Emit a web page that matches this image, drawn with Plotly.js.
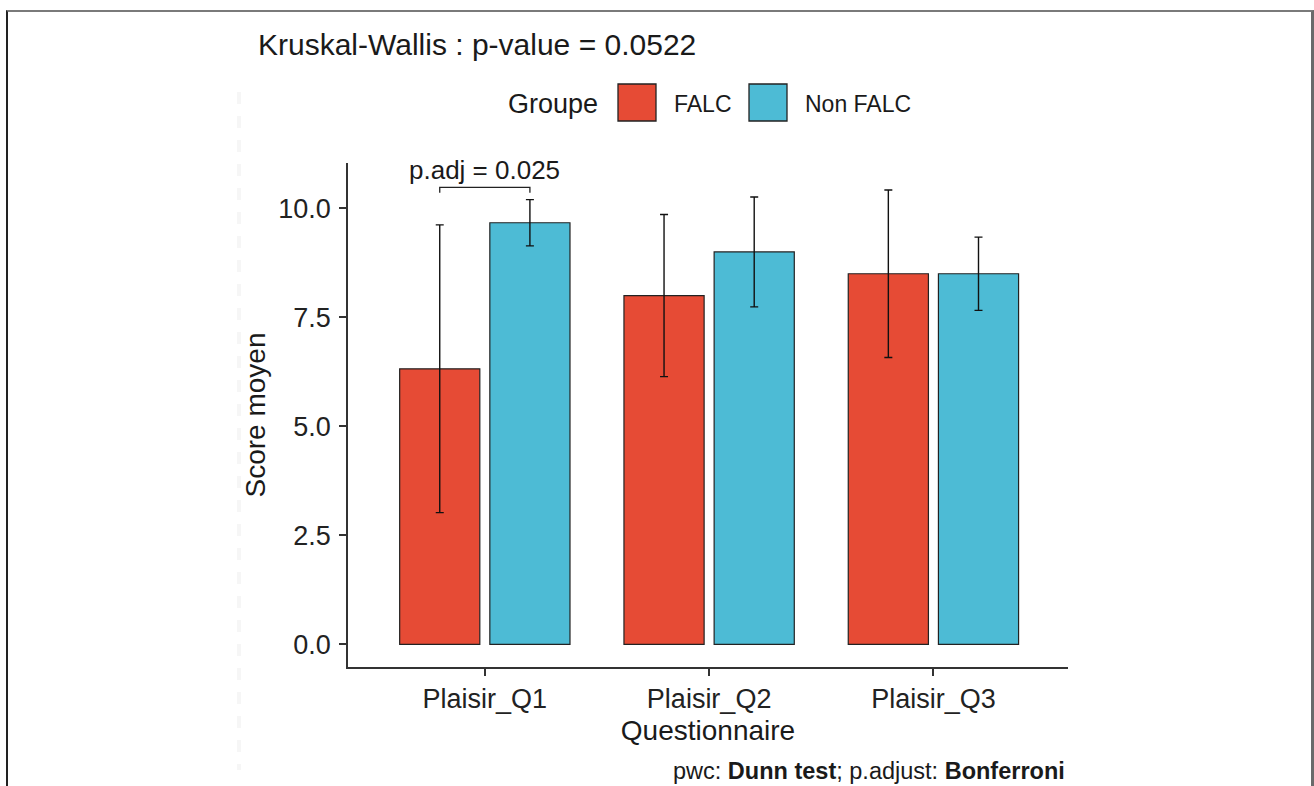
<!DOCTYPE html>
<html>
<head>
<meta charset="utf-8">
<script src="https://cdn.plot.ly/plotly-3.0.1.min.js"></script>
<style>
  html, body { margin: 0; padding: 0; background: #fff; }
  #wrap { position: relative; width: 1314px; height: 786px; overflow: hidden; }
  #chart { position: absolute; left: 0; top: 0; width: 1314px; height: 786px; }
  #frame { position: absolute; left: 6px; top: 10px; width: 1303px; height: 800px;
           border-top: 2px solid #7a7a7a; border-left: 2px solid #222; border-right: 3px solid #6a6a6a;
           pointer-events: none; }
</style>
</head>
<body>
<div id="wrap">
  <div id="chart"></div>
  <div id="frame"></div>
</div>
<script>
// ---- data ----
const categories = ["Plaisir_Q1", "Plaisir_Q2", "Plaisir_Q3"];
const groups = ["FALC", "Non FALC"];
const falcMean = [6.32, 8.00, 8.50];
const falcSd = [3.30, 1.86, 1.92];
const nonFalcMean = [9.67, 9.00, 8.50];
const nonFalcSd = [0.53, 1.26, 0.84];
const yTickVals = [0, 2.5, 5, 7.5, 10];
const yTickText = ["0.0", "2.5", "5.0", "7.5", "10.0"];
const pwcLabel = "p.adj = 0.025";
const titleText = "Kruskal-Wallis : p-value = 0.0522";
const captionText = "pwc: <b>Dunn test</b>; p.adjust: <b>Bonferroni</b>";

const colors = ["#E64B35", "#4DBBD5"];
const FONT = '"Liberation Sans", Arial, sans-serif';

const errStyle = { type: "data", visible: true, color: "#111", thickness: 1.4, width: 4 };

const traces = [
  { type: "bar", name: groups[0], x: categories, y: falcMean,
    marker: { color: colors[0], line: { color: "#222", width: 1.2 } },
    error_y: Object.assign({ array: falcSd }, errStyle), showlegend: false, hoverinfo: "x+y" },
  { type: "bar", name: groups[1], x: categories, y: nonFalcMean,
    marker: { color: colors[1], line: { color: "#222", width: 1.2 } },
    error_y: Object.assign({ array: nonFalcSd }, errStyle), showlegend: false, hoverinfo: "x+y" }
];

// plot area geometry in px
const W = 1314, H = 786;
const L = 348, R = 246, T = 163, B = 119;
const pw = W - L - R, ph = H - T - B;
const px2paperX = px => (px - L) / pw;
const py2paperY = py => (H - B - py) / ph;

const bargap = 0.196;
const off = (1 - bargap) / 4; // centre offset of each bar in a 2-bar group

// bracket for Q1 comparison, derived from data
const bracketY = Math.max(falcMean[0] + falcSd[0], nonFalcMean[0] + nonFalcSd[0]) + 0.28;
const tickDrop = 0.12;

const shapes = [
  { type: "path", xref: "x", yref: "y",
    path: `M ${-off},${bracketY - tickDrop} L ${-off},${bracketY} L ${off},${bracketY} L ${off},${bracketY - tickDrop}`,
    line: { color: "#222", width: 1.3 } },
  // legend keys
  { type: "rect", xref: "paper", yref: "paper",
    x0: px2paperX(618), x1: px2paperX(656), y0: py2paperY(84), y1: py2paperY(121),
    fillcolor: colors[0], line: { color: "#222", width: 1.3 } },
  { type: "rect", xref: "paper", yref: "paper",
    x0: px2paperX(749), x1: px2paperX(787), y0: py2paperY(84), y1: py2paperY(121),
    fillcolor: colors[1], line: { color: "#222", width: 1.3 } },
  // faint artefact line at left
  { type: "line", xref: "paper", yref: "paper",
    x0: px2paperX(239), x1: px2paperX(239), y0: py2paperY(92), y1: py2paperY(770),
    line: { color: "#f6f6f6", width: 4, dash: "dash" } }
];

const annotations = [
  { xref: "x", yref: "y", x: 0, y: bracketY, text: pwcLabel, showarrow: false,
    yanchor: "bottom", yshift: 0, font: { family: FONT, size: 26, color: "#1a1a1a" } },
  { xref: "paper", yref: "paper", x: px2paperX(600), y: py2paperY(104), xanchor: "right", yanchor: "middle",
    text: "Groupe", showarrow: false, font: { family: FONT, size: 27, color: "#1a1a1a" } },
  { xref: "paper", yref: "paper", x: px2paperX(672), y: py2paperY(104), xanchor: "left", yanchor: "middle",
    text: groups[0], showarrow: false, font: { family: FONT, size: 23, color: "#1a1a1a" } },
  { xref: "paper", yref: "paper", x: px2paperX(803), y: py2paperY(104), xanchor: "left", yanchor: "middle",
    text: groups[1], showarrow: false, font: { family: FONT, size: 23, color: "#1a1a1a" } },
  { xref: "paper", yref: "paper", x: px2paperX(1067), y: py2paperY(771), xanchor: "right", yanchor: "middle",
    text: captionText, showarrow: false, font: { family: FONT, size: 23.5, color: "#1a1a1a" } }
];

const layout = {
  width: W, height: H,
  margin: { l: L, r: R, t: T, b: B, pad: 0 },
  paper_bgcolor: "#fff", plot_bgcolor: "#fff",
  font: { family: FONT, color: "#1a1a1a" },
  title: { text: titleText, xref: "container", yref: "container", x: 258 / W, xanchor: "left",
           y: 1 - 44 / H, yanchor: "middle", font: { family: FONT, size: 30, color: "#1a1a1a" } },
  barmode: "group", bargap: bargap, bargroupgap: 0.111,
  showlegend: false,
  xaxis: { type: "category", categoryorder: "array", categoryarray: categories,
           range: [-0.61, 2.6], showline: true, linecolor: "#333", linewidth: 1.5,
           ticks: "outside", ticklen: 7, tickwidth: 1.5, tickcolor: "#333",
           showgrid: false, zeroline: false,
           tickfont: { family: FONT, size: 27, color: "#222" },
           title: { text: "Questionnaire", standoff: 7, font: { family: FONT, size: 28, color: "#1a1a1a" } } },
  yaxis: { range: [-0.52, 11.04], tickvals: yTickVals, ticktext: yTickText,
           showline: true, linecolor: "#333", linewidth: 1.5,
           ticks: "outside", ticklen: 7, tickwidth: 1.5, tickcolor: "#333",
           showgrid: false, zeroline: false, ticklabelstandoff: 3,
           tickfont: { family: FONT, size: 27, color: "#222" },
           title: { text: "Score moyen", standoff: 4, font: { family: FONT, size: 28, color: "#1a1a1a" } } },
  shapes: shapes,
  annotations: annotations
};

Plotly.newPlot("chart", traces, layout, { displayModeBar: false, staticPlot: false });
</script>
</body>
</html>
